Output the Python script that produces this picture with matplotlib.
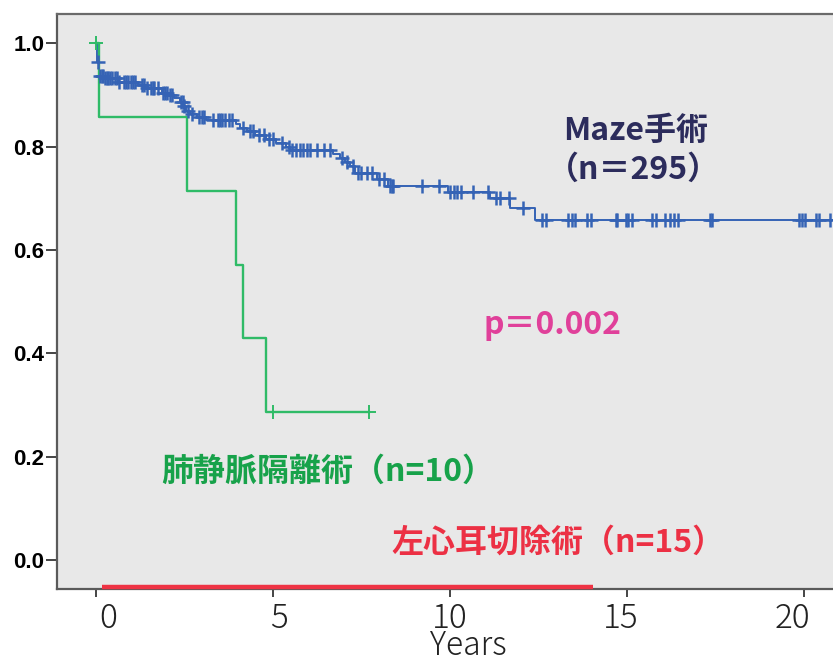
import numpy as np
import matplotlib
matplotlib.use("Agg")
import matplotlib.pyplot as plt
import matplotlib.transforms as mtrans

plt.rcParams['font.family'] = ['Noto Sans CJK JP', 'DejaVu Sans']

# ---------------- data ----------------
# Maze procedure (n=295): step events (time in years, survival after step)
maze_event_t = [0.0, 0.04, 0.085, 0.25, 0.62, 1.19, 1.36, 1.86, 2.03, 2.20, 2.37, 2.46,
                2.54, 2.66, 2.85, 3.11, 3.95, 4.07, 4.27, 4.49, 4.80, 5.08, 5.37,
                5.48, 6.69, 6.89, 7.03, 7.18, 7.32, 7.94, 8.25, 9.94, 11.13,
                11.69, 12.40]
maze_event_s = [1.0, 0.965, 0.937, 0.933, 0.926, 0.919, 0.913, 0.905, 0.900, 0.894, 0.886,
                0.878, 0.870, 0.864, 0.858, 0.852, 0.845, 0.837, 0.830, 0.823,
                0.815, 0.808, 0.800, 0.793, 0.786, 0.778, 0.770, 0.762, 0.750,
                0.737, 0.725, 0.712, 0.700, 0.681, 0.658]
maze_censor_t = [0.06, 0.12, 0.17, 0.2, 0.25, 0.3, 0.35, 0.4, 0.45, 0.55, 0.6, 0.65,
                 0.8, 0.85, 0.9, 1.0, 1.05, 1.1,
                 1.3, 1.35, 1.45, 1.55, 1.6, 1.65, 1.75, 1.9, 1.95, 2.0, 2.1, 2.15,
                 2.4, 2.45, 2.5, 2.6, 2.7,
                 2.9, 3.0, 3.05, 3.3, 3.45, 3.5, 3.55, 3.65, 3.75, 3.85,
                 4.15, 4.35, 4.45, 4.6, 4.75, 4.9, 5.0, 5.25, 5.45,
                 5.55, 5.65, 5.75, 5.85, 5.95, 6.05, 6.25, 6.45, 6.6,
                 6.95, 7.1, 7.25, 7.4, 7.5, 7.65, 7.8, 8.0, 8.15,
                 8.3, 8.35, 8.4, 9.21, 9.69, 10.0, 10.1, 10.2, 10.3, 10.65, 11.07,
                 11.3, 11.41, 11.67, 12.06, 12.6, 12.71,
                 13.33, 13.45, 13.53, 13.87, 13.98, 14.69, 14.72, 14.97, 15.03, 15.14,
                 15.71, 15.82, 16.07, 16.21, 16.33, 16.44, 17.34, 17.40,
                 19.86, 19.94, 20.03, 20.34, 20.42, 20.73]
maze_followup_end = 21.5

# Pulmonary vein isolation (n=10)
pvi_event_t = [0.0, 0.08, 2.57, 3.97, 4.16, 4.80]
pvi_event_s = [1.0, 0.857, 0.714, 0.571, 0.429, 0.286]
pvi_censor_t = [0.0, 5.01, 7.72]
pvi_followup_end = 7.72

# Left atrial appendage excision (n=15): line along the bottom
laa_t = [0.17, 14.04]
laa_s = [-0.052, -0.052]

x_ticks = [0, 5, 10, 15, 20]
y_ticks = [0.0, 0.2, 0.4, 0.6, 0.8, 1.0]

# ---------------- figure ----------------
W, H = 833, 662
fig = plt.figure(figsize=(W / 100, H / 100), dpi=100)
ax = fig.add_axes([57 / W, 73 / H, 1 - 57 / W, (589 - 14) / H])
ax.set_facecolor('#e8e8e8')

def km_xy(t, s, end):
    return list(t) + [end], list(s) + [s[-1]]

def surv_at(t_events, s_events, tc):
    idx = np.searchsorted(np.asarray(t_events), np.asarray(tc), side='right') - 1
    return np.asarray(s_events)[idx]

blue = '#3563b5'
green = '#2fbb67'

mx, my = km_xy(maze_event_t, maze_event_s, maze_followup_end)
ax.step(mx, my, where='post', color=blue, lw=1.4, zorder=3)
ax.plot(maze_censor_t, surv_at(maze_event_t, maze_event_s, maze_censor_t),
        ls='none', marker='+', ms=10, mew=1.8, color=blue, zorder=4)

px, py = km_xy(pvi_event_t, pvi_event_s, pvi_followup_end)
ax.step(px, py, where='post', color=green, lw=1.7, zorder=3)
ax.plot(pvi_censor_t, surv_at(pvi_event_t, pvi_event_s, pvi_censor_t),
        ls='none', marker='+', ms=10, mew=1.4, color=green, zorder=4)

ax.plot(laa_t, laa_s, color='#ee3344', lw=3.2, solid_capstyle='butt', zorder=5,
        clip_on=False)

ax.set_xlim(-1.10, (833 - 96) / 35.4)
ax.set_ylim(-0.056, 1.057)

for sp in ['left', 'bottom', 'top']:
    ax.spines[sp].set_color('#5a5a5a')
    ax.spines[sp].set_linewidth(1.6)
ax.spines['top'].set_color('#6a6a6a')
ax.spines['right'].set_visible(False)

ax.set_yticks(y_ticks)
ax.set_yticklabels([f'{v:.1f}' for v in y_ticks], fontfamily='Liberation Sans',
                   fontweight='bold', fontsize=16)
ax.tick_params(axis='y', length=8, width=1.4, color='#444444', pad=1)
ax.set_xticks(x_ticks)
ax.set_xticklabels([])
ax.tick_params(axis='x', length=6, width=1.4, color='#444444')

trans = mtrans.blended_transform_factory(ax.transData, fig.transFigure)
for t in x_ticks:
    ax.text(t + 0.34 - 0.034 * t, 1 - 619 / H, str(t), transform=trans,
            ha='center', va='center', fontsize=24, color='#222222',
            fontweight='light', clip_on=False)
fig.text(468 / W, 1 - 646 / H, 'Years', ha='center', va='center', fontsize=23,
         color='#222222', fontweight='light')

fs = 23
ax.text((636 - 96) / 35.4, (560 - 131) / 516.7, 'Maze手術', ha='center', va='center',
        fontsize=fs, fontweight='bold', color='#2c2c5c')
ax.text((633 - 96) / 35.4, (560 - 170) / 516.7, '（n＝295）', ha='center', va='center',
        fontsize=fs, fontweight='bold', color='#2c2c5c')
ax.text((553 - 96) / 35.4, (560 - 325) / 516.7, 'p＝0.002', ha='center', va='center',
        fontsize=fs, fontweight='bold', color='#e0409a')
ax.text((328 - 96) / 35.4, (560 - 472) / 516.7, '肺静脈隔離術（n=10）', ha='center',
        va='center', fontsize=fs, fontweight='bold', color='#17a24a')
ax.text((558 - 96) / 35.4, (560 - 543) / 516.7, '左心耳切除術（n=15）', ha='center',
        va='center', fontsize=fs, fontweight='bold', color='#ec3044')

fig.savefig('out.png', dpi=100, facecolor='white')
